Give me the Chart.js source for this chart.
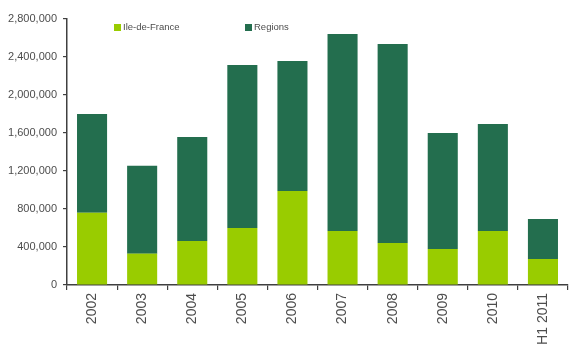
<!DOCTYPE html>
<html>
<head>
<meta charset="utf-8">
<script src="https://cdn.jsdelivr.net/npm/chart.js@4"></script>
<style>
html,body{margin:0;padding:0;background:#fff;}
#wrap{position:relative;width:570px;height:345px;}
</style>
</head>
<body>
<div id="wrap"><canvas id="c" width="570" height="345"></canvas></div>
<script>
const categories = ['2002','2003','2004','2005','2006','2007','2008','2009','2010','H1 2011'];
const ileDeFrance = [760000, 330000, 463000, 600000, 990000, 568000, 442000, 379000, 568000, 274000];
const regions = [1040000, 925000, 1095000, 1716000, 1368000, 2074000, 2095000, 1221000, 1127000, 421000];
const yTicks = [0, 400000, 800000, 1200000, 1600000, 2000000, 2400000, 2800000];

const textColor = '#4d4d4d';
const axisColor = '#404040';

const legendPlugin = {
  id: 'customLegend',
  afterDraw(chart) {
    const ctx = chart.ctx;
    const xs = [114, 245];
    ctx.save();
    ctx.font = '9.5px "Liberation Sans", Arial, sans-serif';
    ctx.textBaseline = 'middle';
    ctx.textAlign = 'left';
    chart.data.datasets.forEach((ds, i) => {
      ctx.fillStyle = ds.backgroundColor;
      ctx.fillRect(xs[i], 24, 7, 7);
      ctx.fillStyle = textColor;
      ctx.fillText(ds.label, xs[i] + 9, 27.5);
    });
    ctx.restore();
  }
};

new Chart(document.getElementById('c'), {
  type: 'bar',
  data: {
    labels: categories,
    datasets: [
      { label: 'Ile-de-France', data: ileDeFrance, backgroundColor: '#99CC00', barPercentage: 0.6, categoryPercentage: 1.0 },
      { label: 'Regions', data: regions, backgroundColor: '#236E4E', barPercentage: 0.6, categoryPercentage: 1.0 }
    ]
  },
  options: {
    responsive: false,
    animation: false,
    layout: { padding: { top: 19, right: 2, left: 0, bottom: 0 } },
    plugins: { legend: { display: false }, tooltip: { enabled: false } },
    scales: {
      x: {
        stacked: true,
        grid: { display: true, drawOnChartArea: false, drawTicks: true, tickLength: 5, offset: true, color: axisColor, lineWidth: 1.2 },
        border: { display: true, color: axisColor, width: 1.5 },
        ticks: {
          color: textColor,
          font: { family: '"Liberation Sans", Arial, sans-serif', size: 14 },
          minRotation: 90, maxRotation: 90, padding: 3, autoSkip: false
        },
        afterFit(scale) { scale.height = 60; }
      },
      y: {
        stacked: true,
        min: 0, max: 2800000,
        afterBuildTicks(scale) { scale.ticks = yTicks.map(v => ({ value: v })); },
        grid: { display: true, drawOnChartArea: false, drawTicks: true, tickLength: 4, color: axisColor, lineWidth: 1.2 },
        border: { display: true, color: axisColor, width: 1.5 },
        ticks: {
          color: textColor,
          font: { family: '"Liberation Sans", Arial, sans-serif', size: 11 },
          padding: 6,
          callback: v => v.toLocaleString('en-US')
        },
        afterFit(scale) { scale.width = 67; }
      }
    }
  },
  plugins: [legendPlugin]
});
</script>
</body>
</html>
